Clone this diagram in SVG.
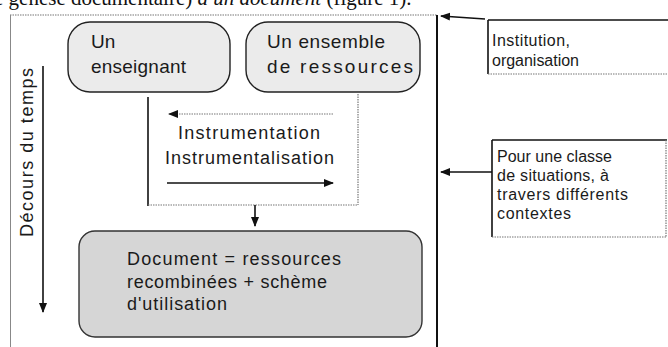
<svg xmlns="http://www.w3.org/2000/svg" width="668" height="347" viewBox="0 0 668 347">
<style>
text{font-family:"Liberation Sans",Arial,sans-serif;font-size:18px;fill:#1a1a1a}
.sm{font-size:16px}
.big{font-size:19px}
.cap{font-family:"Liberation Serif","Times New Roman",serif;font-size:21px;fill:#111}
.blk{stroke:#111;stroke-width:1.6;fill:none}
.gry{stroke:#777;stroke-width:1.2;stroke-dasharray:1.5 1;fill:none}
.oval{fill:#ebebeb;stroke:#222;stroke-width:1.4}
.doc{fill:#d6d6d6;stroke:#333;stroke-width:1.4}
</style>
<defs>
<marker id="ah" viewBox="0 0 10 10" refX="9" refY="5" markerWidth="10" markerHeight="10" markerUnits="userSpaceOnUse" orient="auto"><path d="M0,1 L10,5 L0,9 Z" fill="#111"/></marker>
</defs>
<rect width="668" height="347" fill="#fff"/>
<text class="cap" x="-6" y="5">e genèse documentaire) <tspan font-style="italic">à un document</tspan> (figure 1).</text>
<g id="frame">
<line class="gry" x1="10" y1="15" x2="437" y2="15"/>
<line x1="10.5" y1="15" x2="10.5" y2="347" stroke="#888" stroke-width="1"/>
<line x1="437" y1="15" x2="437" y2="347" stroke="#111" stroke-width="2"/>
</g>
<g id="enseignant">
<rect class="oval" x="68" y="22" width="162" height="70" rx="22"/>
<text class="big" x="91" y="48">Un</text>
<text class="big" x="91" y="73" textLength="95" lengthAdjust="spacing">enseignant</text>
</g>
<g id="ressources">
<rect class="oval" x="246" y="22" width="174" height="70" rx="22"/>
<text class="big" x="267" y="48" textLength="118" lengthAdjust="spacing">Un ensemble</text>
<text class="big" x="267" y="73" textLength="146" lengthAdjust="spacing">de ressources</text>
</g>
<g id="instrumentation">
<line x1="148" y1="97" x2="148" y2="206" stroke="#111" stroke-width="1.6"/>
<line class="gry" x1="358" y1="94" x2="358" y2="205"/>
<line class="gry" x1="148" y1="205" x2="358" y2="205"/>
<text x="178" y="139" textLength="142" lengthAdjust="spacing">Instrumentation</text>
<text x="165" y="164" textLength="169" lengthAdjust="spacing">Instrumentalisation</text>
</g>
<g id="institution">
<line class="blk" x1="488" y1="20" x2="668" y2="20"/>
<line class="blk" x1="488" y1="20" x2="488" y2="74"/>
<line class="gry" x1="488" y1="74" x2="668" y2="74"/>
<text class="sm" x="492" y="46" textLength="78" lengthAdjust="spacing">Institution,</text>
<text class="sm" x="492" y="66" textLength="87" lengthAdjust="spacing">organisation</text>
</g>
<g id="situations">
<line class="blk" x1="492" y1="140" x2="667" y2="140"/>
<line class="blk" x1="492" y1="140" x2="492" y2="237"/>
<line class="gry" x1="666" y1="140" x2="666" y2="237"/>
<line class="gry" x1="492" y1="237" x2="666" y2="237"/>
<text class="sm" x="497" y="162" textLength="115" lengthAdjust="spacing">Pour une classe</text>
<text class="sm" x="497" y="181" textLength="112" lengthAdjust="spacing">de situations, à</text>
<text class="sm" x="497" y="200" textLength="131" lengthAdjust="spacing">travers différents</text>
<text class="sm" x="497" y="219" textLength="74" lengthAdjust="spacing">contextes</text>
</g>
<g id="document">
<rect class="doc" x="79" y="231" width="343" height="106" rx="16"/>
<text x="127" y="265" textLength="214" lengthAdjust="spacing">Document = ressources</text>
<text x="127" y="288" textLength="200" lengthAdjust="spacing">recombinées + schème</text>
<text x="127" y="310" textLength="100" lengthAdjust="spacing">d'utilisation</text>
</g>
<g id="temps">
<text transform="translate(33,237) rotate(-90)" font-size="16" textLength="169" lengthAdjust="spacing">Décours du temps</text>
</g>
<g id="connectors">
<line x1="485" y1="19" x2="441" y2="16" stroke="#111" stroke-width="1.6" marker-end="url(#ah)"/>
<line x1="492" y1="172" x2="441" y2="172" stroke="#111" stroke-width="1.6" marker-end="url(#ah)"/>
<line x1="333" y1="114" x2="169" y2="114" stroke="#777" stroke-width="1.2" stroke-dasharray="1.5 1" marker-end="url(#ah)"/>
<line x1="167" y1="183" x2="333" y2="183" stroke="#111" stroke-width="1.6" marker-end="url(#ah)"/>
<line x1="255" y1="205" x2="255" y2="226" stroke="#111" stroke-width="1.6" marker-end="url(#ah)"/>
<line x1="43" y1="66" x2="43" y2="312" stroke="#111" stroke-width="1.6" marker-end="url(#ah)"/>
</g>
</svg>
